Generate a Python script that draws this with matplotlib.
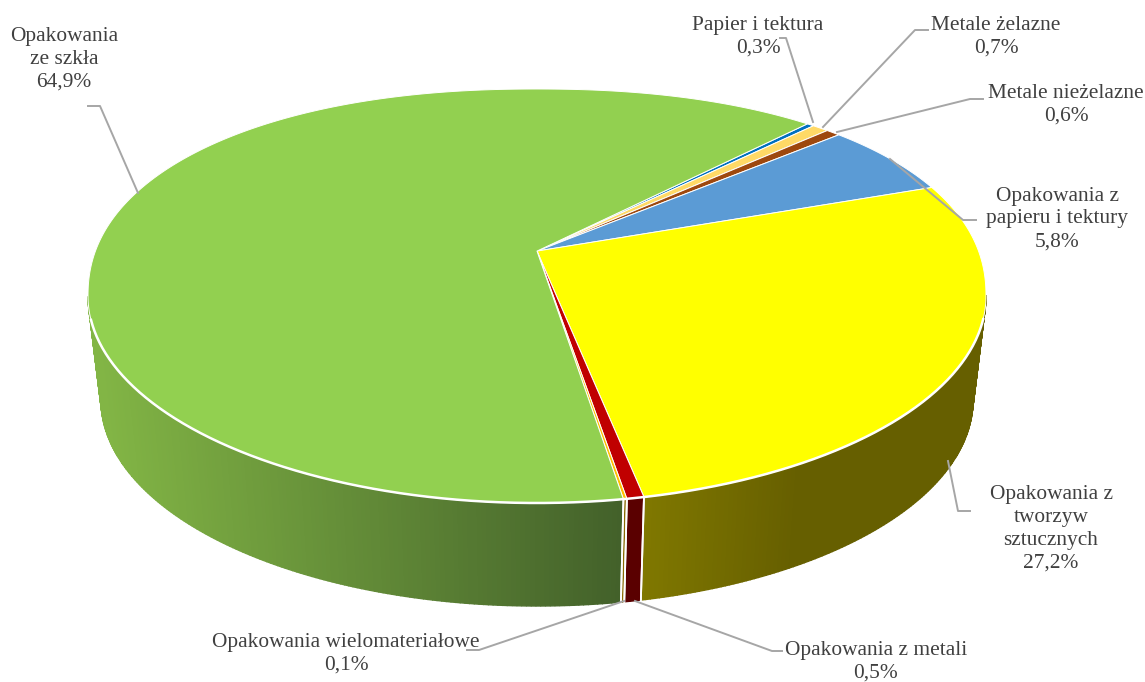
import numpy as np
import matplotlib
matplotlib.use('Agg')
import matplotlib.pyplot as plt
from matplotlib.patches import Polygon

plt.rcParams['font.family'] = ['Liberation Serif', 'DejaVu Serif']

# dane
labels = ['Papier i tektura', 'Metale żelazne', 'Metale nieżelazne', 'Opakowania z\npapieru i tektury',
          'Opakowania z\ntworzyw\nsztucznych', 'Opakowania z metali', 'Opakowania wielomateriałowe',
          'Opakowania\nze szkła']
values = [0.3, 0.7, 0.6, 5.8, 27.2, 0.5, 0.1, 64.9]
colors = ['#0070C0', '#FFD966', '#9E480E', '#5B9BD5', '#FFFF00', '#C00000', '#FFC000', '#92D050']
side_left = ['#005488', '#807040', '#703008', '#3F6F99', '#807800', '#5A0000', '#8A6A00', '#82B545']
side_right = ['#005488', '#807040', '#703008', '#3F6F99', '#665F00', '#5A0000', '#8A6A00', '#43612A']

label_pos = [(758, 37), (996, 37), (1066, 105), (1057, 219), (1051, 529), (876, 662), (346, 654), (64, 59)]
leaders = [[(813, 122), (786, 38), (780, 38)],
           [(823, 127), (915, 30), (928, 30)],
           [(837, 132), (970, 99), (983, 99)],
           [(890, 159), (963, 220), (976, 220)],
           [(948, 461), (958, 511), (970, 511)],
           [(635, 601), (772, 651), (782, 651)],
           [(624, 601), (479, 650), (467, 650)],
           [(138, 193), (100, 106), (88, 106)]]

CX, CY, RX, RY = 537, 296, 449, 207
D = 0.217          # przesuniecie perspektywy
BX, BY, BRX, BRY = 537, 400, 436, 206
START = 46.0
BULGE = 2.18       # gorna polowa jest troche bardziej wypukla niz elipsa


def unit_point(a):
    # a - prawdziwy kat w stopniach, wynik na okregu jednostkowym po perspektywie
    a = np.asarray(a, dtype=float)
    a = a + 0.5 * np.minimum(np.sin(np.radians(a)), 0)
    u, v = np.cos(np.radians(a)), np.sin(np.radians(a))
    s = 1 + D * v
    return u * np.sqrt(1 - D ** 2) / s, (v + D) / s


def top_point(a):
    x, y = unit_point(a)
    n = (np.abs(x) ** BULGE + np.abs(y) ** BULGE) ** (1 / BULGE)
    x = np.where(y > 0, x / n, x)
    y = np.where(y > 0, y / n, y)
    return CX + RX * x, CY - RY * y


def bottom_point(a):
    x, y = unit_point(a)
    return BX + BRX * x, BY - BRY * y


fig = plt.figure(figsize=(11.45, 6.82), dpi=100)
ax = fig.add_axes([0, 0, 1, 1])
ax.set_xlim(0, 1145)
ax.set_ylim(682, 0)
ax.axis('off')

total = sum(values)
angle = START
wedges = []
for i, val in enumerate(values):
    span = val / total * 360
    wedges.append((angle - span, angle, i))
    angle -= span

# boki
for a0, a1, i in wedges:
    steps = max(2, int((a1 - a0) * 2))
    aa = np.linspace(a0, a1, steps + 1)
    xt, yt = top_point(aa)
    xb, yb = bottom_point(aa)
    c0 = np.array(matplotlib.colors.to_rgb(side_left[i]))
    c1 = np.array(matplotlib.colors.to_rgb(side_right[i]))
    if i == 7:
        xa, xz = 100, 622
    else:
        xa, xz = 645, 800
    for k in range(steps):
        if (yt[k] + yt[k + 1]) / 2 < CY:
            continue
        f = np.clip(((xt[k] + xt[k + 1]) / 2 - xa) / (xz - xa), 0, 1)
        col = c0 + (c1 - c0) * f
        ax.add_patch(Polygon([(xt[k], yt[k]), (xt[k + 1], yt[k + 1]), (xb[k + 1], yb[k + 1]), (xb[k], yb[k])],
                             closed=True, facecolor=col, edgecolor=col, linewidth=1.0, zorder=2))

# biale linie na bokach
for a0, a1, i in wedges:
    for a in (a0, a1):
        xt, yt = top_point(a)
        xb, yb = bottom_point(a)
        if yt > CY + 100:
            ax.plot([xt, xb], [yt, yb], color='white', linewidth=1.3, zorder=3)

# wierzch
for a0, a1, i in wedges:
    aa = np.linspace(a0, a1, max(3, int((a1 - a0) * 4)))
    xt, yt = top_point(aa)
    pts = [(CX, CY - RY * D)] + list(zip(xt, yt))
    ax.add_patch(Polygon(pts, closed=True, facecolor=colors[i], edgecolor='white', linewidth=0.7,
                         joinstyle='round', zorder=4))

# bialy brzeg od strony boku
rim = np.linspace(-190, 10, 400)
xr, yr = top_point(rim)
keep = yr > CY + 22
ax.plot(xr[keep], yr[keep], color='white', linewidth=1.8, zorder=4.5)

# linie odniesienia
for path in leaders:
    ax.plot([p[0] for p in path], [p[1] for p in path], color='#A6A6A6', linewidth=1.4, zorder=5)

# etykiety
for lab, val, pos in zip(labels, values, label_pos):
    txt = lab + '\n' + ('%.1f%%' % val).replace('.', ',')
    ax.text(pos[0], pos[1], txt, ha='center', va='center', fontsize=15.4, color='#404040',
            linespacing=1.28, zorder=6)

fig.savefig('out.png', dpi=100)
